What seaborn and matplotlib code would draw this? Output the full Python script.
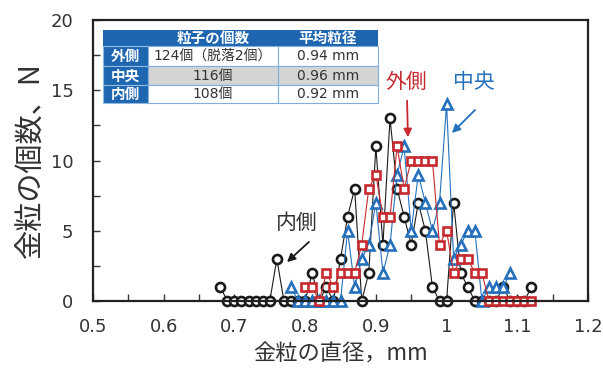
import matplotlib
matplotlib.use("Agg")
import matplotlib.pyplot as plt
from matplotlib.patches import Rectangle
from matplotlib.ticker import MultipleLocator, FuncFormatter
import seaborn as sns
import pandas as pd

sns.set_theme(style="ticks")
plt.rcParams['font.family'] = ['Noto Sans CJK JP', 'DejaVu Sans']

# ---- particle size distributions (diameter in mm, count per 0.01 mm bin) ----
diam_inner = [0.68, 0.69, 0.70, 0.71, 0.72, 0.73, 0.74, 0.75, 0.76, 0.77,
              0.78, 0.79, 0.80, 0.81, 0.82, 0.83, 0.84, 0.85, 0.86, 0.87,
              0.88, 0.89, 0.90, 0.91, 0.92, 0.93, 0.94, 0.95, 0.96, 0.97,
              0.98, 0.99, 1.00, 1.01, 1.02, 1.03, 1.04, 1.05, 1.06, 1.07,
              1.08, 1.09, 1.10, 1.11, 1.12]
count_inner = [1, 0, 0, 0, 0, 0, 0, 0, 3, 0,
               0, 0, 0, 2, 0, 1, 0, 3, 6, 8,
               0, 2, 11, 4, 13, 8, 6, 4, 7, 5,
               1, 0, 0, 7, 2, 1, 0, 0, 0, 0,
               1, 0, 0, 0, 1]

diam_center = [0.78, 0.79, 0.80, 0.81, 0.82, 0.83, 0.84, 0.85, 0.86, 0.87,
               0.88, 0.89, 0.90, 0.91, 0.92, 0.93, 0.94, 0.95, 0.96, 0.97,
               0.98, 0.99, 1.00, 1.01, 1.02, 1.03, 1.04, 1.05, 1.06, 1.07,
               1.08, 1.09]
count_center = [1, 0, 0, 0, 0, 0, 0, 0, 5, 1,
                3, 4, 7, 2, 4, 9, 11, 5, 9, 7,
                5, 7, 14, 3, 4, 5, 5, 0, 1, 1,
                1, 2]

diam_outer = [0.80, 0.81, 0.82, 0.83, 0.84, 0.85, 0.86, 0.87, 0.88, 0.89,
              0.90, 0.91, 0.92, 0.93, 0.94, 0.95, 0.96, 0.97, 0.98, 0.99,
              1.00, 1.01, 1.02, 1.03, 1.04, 1.05, 1.06, 1.07, 1.08, 1.09,
              1.10, 1.11, 1.12]
count_outer = [1, 1, 0, 2, 1, 2, 2, 2, 4, 8,
               9, 6, 6, 11, 8, 10, 10, 10, 10, 4,
               5, 2, 3, 3, 2, 2, 0, 0, 0, 0,
               0, 0, 0]

# summary table
row_labels = ["外側", "中央", "内側"]
col_labels = ["粒子の個数", "平均粒径"]
cell_counts = ["124個（脱落2個）", "116個", "108個"]
cell_means = ["0.94 mm", "0.96 mm", "0.92 mm"]

BLACK = "#1a1a1a"
RED = "#c62a2f"
BLUE = "#2470bd"
TABLE_BLUE = "#1f66b0"
TEXT = "#333333"
NUM_FONT = ["DejaVu Sans"]

W, H = 603, 371
fig = plt.figure(figsize=(W / 100, H / 100), dpi=100)
ax = fig.add_axes([93 / W, 1 - 301 / H, (588 - 93) / W, (301 - 20) / H])

series = [
    (diam_inner, count_inner, BLACK, "o", 6.5),
    (diam_center, count_center, BLUE, "^", 7.0),
    (diam_outer, count_outer, RED, "s", 6.3),
]
for diam, cnt, col, mk, ms in series:
    df = pd.DataFrame({"d": diam, "n": cnt})
    sns.lineplot(data=df, x="d", y="n", ax=ax, color=col, lw=0.8,
                 marker=mk, markersize=ms, markerfacecolor="white",
                 markeredgecolor=col, markeredgewidth=1.9, clip_on=False)

ax.set_xlim(0.5, 1.2)
ax.set_ylim(0, 20)
ax.xaxis.set_major_locator(MultipleLocator(0.1))
ax.xaxis.set_minor_locator(MultipleLocator(0.05))
ax.yaxis.set_major_locator(MultipleLocator(5))
ax.yaxis.set_minor_locator(MultipleLocator(2.5))
ax.xaxis.set_major_formatter(FuncFormatter(
    lambda v, p: "1" if abs(v - 1) < 1e-9 else f"{v:.1f}"))
ax.tick_params(which="both", direction="in", length=5, width=1.0,
               color="#333333", labelsize=13, labelcolor=TEXT,
               top=False, right=False)
ax.tick_params(axis="x", pad=12)
ax.tick_params(axis="y", pad=14)
for lab in ax.get_xticklabels() + ax.get_yticklabels():
    lab.set_fontfamily(NUM_FONT)
for s in ax.spines.values():
    s.set_linewidth(1.6)
    s.set_color("#222222")

ax.set_xlabel("金粒の直径，mm", fontsize=16, color=TEXT, labelpad=5)
ax.set_ylabel("金粒の個数、N", fontsize=21, color=TEXT, labelpad=3)

# annotations
ax.annotate("", xy=(285 / W, 1 - 264 / H), xytext=(311 / W, 1 - 240 / H),
            xycoords="figure fraction", textcoords="figure fraction",
            arrowprops=dict(arrowstyle="-|>", color=BLACK, lw=1.3,
                            mutation_scale=12))
fig.text(297 / W, 1 - 223 / H, "内側", ha="center", va="center",
         fontsize=15, color=TEXT)

ax.annotate("", xy=(408 / W, 1 - 140 / H), xytext=(407 / W, 1 - 98 / H),
            xycoords="figure fraction", textcoords="figure fraction",
            arrowprops=dict(arrowstyle="-|>", color=RED, lw=1.3,
                            mutation_scale=12))
fig.text(406 / W, 1 - 82 / H, "外側", ha="center", va="center",
         fontsize=15, color=RED)

ax.annotate("", xy=(450 / W, 1 - 135 / H), xytext=(477 / W, 1 - 108 / H),
            xycoords="figure fraction", textcoords="figure fraction",
            arrowprops=dict(arrowstyle="-|>", color=BLUE, lw=1.3,
                            mutation_scale=12))
fig.text(474 / W, 1 - 82 / H, "中央", ha="center", va="center",
         fontsize=15, color=BLUE)

# summary table drawn in figure pixels
xe = [103, 148, 278, 378]
ye = [30, 46, 66, 85, 103]


def rect(x0, y0, x1, y1, fc, ec="none", lw=0):
    fig.patches.append(Rectangle((x0 / W, 1 - y1 / H), (x1 - x0) / W,
                                 (y1 - y0) / H, transform=fig.transFigure,
                                 facecolor=fc, edgecolor=ec, linewidth=lw,
                                 zorder=5))


rect(xe[0], ye[0], xe[3], ye[1], TABLE_BLUE)
for i in range(3):
    rect(xe[0], ye[i + 1], xe[1], ye[i + 2], TABLE_BLUE, "#8fbbe3", 0.8)
    fc = "#d4d4d4" if i == 1 else "white"
    rect(xe[1], ye[i + 1], xe[2], ye[i + 2], fc, "#7fb0dd", 0.8)
    rect(xe[2], ye[i + 1], xe[3], ye[i + 2], fc, "#7fb0dd", 0.8)

for j, lab in enumerate(col_labels):
    fig.text((xe[j + 1] + xe[j + 2]) / 2 / W, 1 - (ye[0] + ye[1]) / 2 / H,
             lab, ha="center", va="center", fontsize=10.5, color="white",
             fontweight="bold", zorder=6)
for i in range(3):
    yc = 1 - (ye[i + 1] + ye[i + 2]) / 2 / H
    fig.text((xe[0] + xe[1]) / 2 / W, yc, row_labels[i], ha="center",
             va="center", fontsize=10.5, color="white", fontweight="bold",
             zorder=6)
    fig.text((xe[1] + xe[2]) / 2 / W, yc, cell_counts[i], ha="center",
             va="center", fontsize=10, color=TEXT, zorder=6,
             family=["DejaVu Sans", "Noto Sans CJK JP"])
    fig.text((xe[2] + xe[3]) / 2 / W, yc, cell_means[i], ha="center",
             va="center", fontsize=10, color=TEXT, zorder=6,
             family=NUM_FONT)

fig.savefig("out.png", dpi=100)
